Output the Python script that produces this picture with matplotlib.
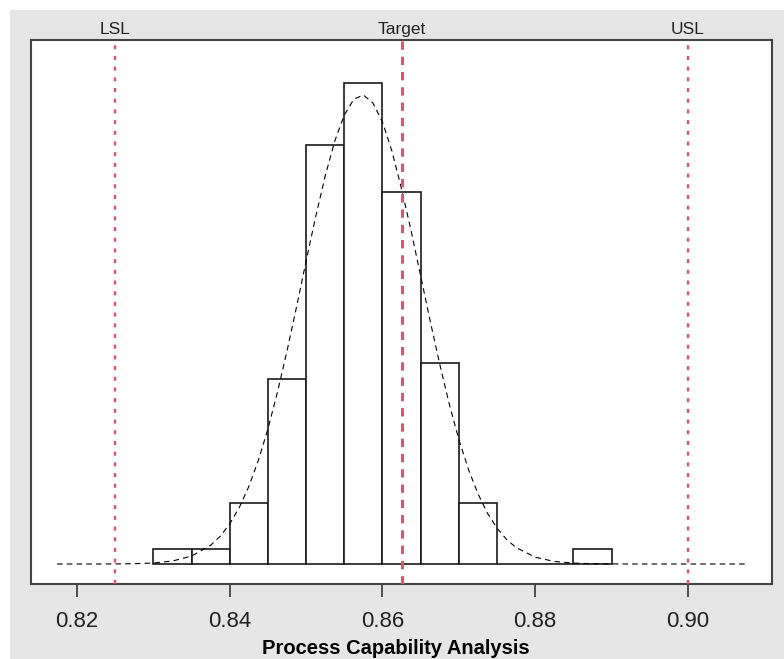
import matplotlib
matplotlib.use("Agg")
import matplotlib.pyplot as plt
from matplotlib.patches import Rectangle
import matplotlib.transforms as mtransforms

plt.rcParams['font.family'] = ['Liberation Sans', 'DejaVu Sans']
plt.rcParams['lines.scale_dashes'] = False

# histogram (density scale)
bin_left = [0.830, 0.835, 0.840, 0.845, 0.850, 0.855, 0.860, 0.865,
            0.870, 0.875, 0.880, 0.885]
bin_width = 0.005
density = [1.5, 1.5, 6.1, 18.5, 41.9, 48.1, 37.2, 20.1, 6.1, 0.0, 0.0, 1.5]

# fitted density curve
curve_x = [0.8174, 0.8200, 0.8225, 0.8250, 0.8275, 0.8300, 0.8325, 0.8350,
           0.8375, 0.83875, 0.8400, 0.84125, 0.8425, 0.84375, 0.8450, 0.84625,
           0.8475, 0.84875, 0.8500, 0.85125, 0.8525, 0.85375, 0.8550, 0.85625,
           0.8575, 0.85875, 0.8600, 0.86125, 0.8625, 0.86375, 0.8650, 0.86625,
           0.8675, 0.86875, 0.8700, 0.87125, 0.8725, 0.87375, 0.8750, 0.87625,
           0.8775, 0.8800, 0.8825, 0.8850, 0.8875, 0.8900, 0.8925, 0.8950,
           0.9000, 0.9076]
curve_y = [0.00, 0.00, 0.00, 0.01, 0.03, 0.10, 0.30, 0.79,
           1.87, 2.77, 4.01, 5.65, 7.75, 10.37, 13.5, 17.19,
           21.3, 25.72, 30.3, 34.72, 38.8, 42.29, 44.9, 46.48,
           46.9, 46.10, 44.2, 41.26, 37.5, 33.32, 28.8, 24.28,
           19.97, 15.97, 12.45, 9.47, 7.03, 5.07, 3.58, 2.45,
           1.64, 0.68, 0.25, 0.09, 0.03, 0.01, 0.00, 0.00,
           0.00, 0.00]

spec_names = ['LSL', 'Target', 'USL']
spec_values = [0.825, 0.8625, 0.900]

xticks = [0.82, 0.84, 0.86, 0.88, 0.90]
xtick_labels = ['0.82', '0.84', '0.86', '0.88', '0.90']

W, H = 784, 659
fig = plt.figure(figsize=(W / 100, H / 100), dpi=100, facecolor='white')
fig.patches.append(Rectangle((10 / W, 0), 1 - 10 / W, 1 - 10 / H,
                             transform=fig.transFigure, facecolor='#E6E6E6',
                             edgecolor='none', zorder=-10))

ax = fig.add_axes([31 / W, (H - 584) / H, (772 - 31) / W, (584 - 40) / H])
ax.set_facecolor('white')

ax.bar(bin_left, density, width=bin_width, align='edge', facecolor='white',
       edgecolor='#1a1a1a', linewidth=1.2, zorder=2)
ax.plot(curve_x, curve_y, color='black', linewidth=0.8,
        dashes=(4.0, 3.0), zorder=3)

red = '#DF536B'
trans = mtransforms.blended_transform_factory(ax.transData, ax.transAxes)
for name, v in zip(spec_names, spec_values):
    if name == 'Target':
        ax.axvline(v, color=red, linewidth=2.2, dashes=(6.0, 5.0),
                   dash_capstyle='butt', zorder=4)
    else:
        ax.axvline(v, color=red, linewidth=1.7, dashes=(2.9, 4.8),
                   dash_capstyle='butt', zorder=4)
    ax.annotate(name, xy=(v, 1.0), xycoords=trans, xytext=(0, 2),
                textcoords='offset points', ha='center', va='bottom',
                fontsize=12.5, color='#222222')

ax.set_xlim(0.81398, 0.91100)
ax.set_ylim(-2.0, 52.4)

ax.set_xticks(xticks)
ax.set_xticklabels(xtick_labels, fontsize=16, color='#222222')
ax.set_yticks([])
ax.tick_params(axis='x', direction='out', length=9.4, width=1.3,
               color='#444444', pad=10)
for sp in ax.spines.values():
    sp.set_color('#444444')
    sp.set_linewidth(1.5)

fig.text(396 / W, 1 - 648 / H, 'Process Capability Analysis', ha='center',
         va='center', fontsize=14.5, fontweight='bold', color='black')

fig.savefig('out.png', dpi=100, facecolor='white')
